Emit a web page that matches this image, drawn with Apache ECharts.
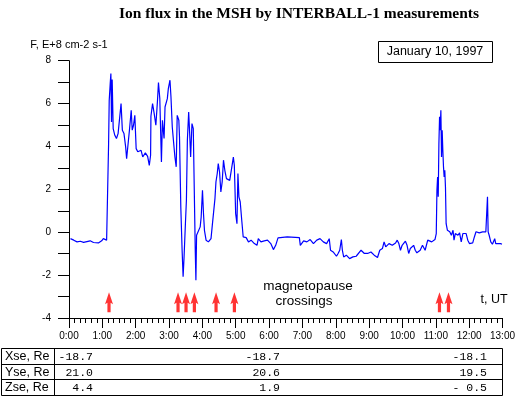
<!DOCTYPE html>
<html>
<head>
<meta charset="utf-8">
<script src="https://cdn.jsdelivr.net/npm/echarts@6/dist/echarts.min.js"></script>
<style>
html, body { margin: 0; padding: 0; background: #fff; }
#chart { width: 518px; height: 397px; }
</style>
</head>
<body>
<div id="chart"></div>
<script>
// time, UT hours
var timeUT = [
  0.044, 0.143, 0.241, 0.340, 0.438, 0.635, 0.734, 0.881, 0.980, 1.029, 1.128, 1.177,
  1.187, 1.206, 1.236, 1.256, 1.275, 1.295, 1.325, 1.374, 1.423, 1.472, 1.521, 1.561,
  1.600, 1.649, 1.699, 1.728, 1.768, 1.817, 1.866, 1.896, 1.935, 1.974, 2.014, 2.063,
  2.162, 2.211, 2.290, 2.358, 2.408, 2.447, 2.457, 2.506, 2.555, 2.605, 2.654, 2.683,
  2.723, 2.772, 2.802, 2.851, 2.880, 2.949, 2.979, 3.028, 3.058, 3.097, 3.136, 3.176,
  3.215, 3.245, 3.294, 3.314, 3.353, 3.392, 3.422, 3.451, 3.491, 3.521, 3.550, 3.589,
  3.619, 3.648, 3.688, 3.727, 3.757, 3.786, 3.806, 3.826, 3.885, 3.934, 3.964, 4.003,
  4.033, 4.062, 4.111, 4.180, 4.259, 4.298, 4.338, 4.377, 4.407, 4.446, 4.476, 4.515,
  4.554, 4.594, 4.633, 4.673, 4.722, 4.771, 4.820, 4.869, 4.899, 4.929, 4.958, 4.998,
  5.037, 5.066, 5.096, 5.135, 5.185, 5.224, 5.313, 5.382, 5.460, 5.559, 5.638,
  5.677, 5.756, 5.854, 5.953, 6.051, 6.130, 6.199, 6.268, 6.544, 6.908, 6.937, 6.987,
  7.036, 7.134, 7.233, 7.331, 7.430, 7.528, 7.627, 7.725, 7.804, 7.843, 7.922, 8.021,
  8.070, 8.119, 8.168, 8.198, 8.237, 8.316, 8.415, 8.513, 8.612, 8.759, 8.858, 8.956,
  9.055, 9.153, 9.252, 9.320, 9.399, 9.449, 9.498, 9.596, 9.695, 9.793, 9.843, 9.892,
  9.941, 9.990, 10.089, 10.138, 10.187, 10.236, 10.335, 10.384, 10.433, 10.532, 10.601, 10.680,
  10.758, 10.798, 10.877, 10.975, 11.014,
  11.034, 11.054, 11.073, 11.093, 11.113, 11.132, 11.152, 11.172, 11.191, 11.211, 11.231, 11.251,
  11.270, 11.290, 11.310, 11.349, 11.418, 11.467, 11.517, 11.546, 11.585, 11.664, 11.713, 11.763,
  11.812, 11.910, 11.959, 12.009, 12.107, 12.157, 12.206, 12.304, 12.403, 12.452, 12.501, 12.550,
  12.570, 12.600, 12.649, 12.698, 12.767, 12.797, 12.846, 12.944, 12.984
];

// ion flux, E+8 cm-2 s-1
var flux = [
  -0.30, -0.37, -0.45, -0.42, -0.47, -0.40, -0.48, -0.50, -0.40, -0.30, -0.37, -0.33,
  4.09, 6.15, 6.93, 7.40, 5.14, 7.12, 4.83, 4.52, 4.37, 4.60, 4.68, 6.00,
  4.76, 4.60, 3.98, 3.43, 3.51, 4.83, 5.69, 4.76, 4.99, 5.45, 3.90, 3.75,
  3.82, 3.51, 3.70, 3.54, 3.12, 3.59, 5.41, 6.00, 5.53, 4.99, 6.15, 6.98,
  6.23, 3.28, 5.22, 4.37, 5.84, 6.23, 6.70, 7.09, 6.31, 4.91, 4.21, 3.51,
  3.05, 5.45, 5.22, 4.44, 1.18, -0.84, -2.08, -1.15, 0.40, 1.49, 4.29, 5.61,
  4.60, 3.51, 5.07, 4.83, 1.96, -0.84, -2.24, -0.14, -0.06, 0.25, 0.71, 1.96,
  0.87, 0.09, -0.37, -0.45, -0.30, 0.33, 0.25, 1.57, 2.35, 2.74, 3.20, 2.81,
  1.88, 2.35, 3.36, 2.89, 2.50, 2.58, 2.42, 2.50, 3.20, 3.51, 3.12, 0.87,
  0.40, 2.74, 1.65, 1.41, 0.48, -0.22, -0.25, -0.45, -0.37, -0.53, -0.61,
  -0.30, -0.45, -0.40, -0.37, -0.53, -0.81, -0.61, -0.26, -0.22, -0.25, -0.61, -0.68,
  -0.40, -0.45, -0.34, -0.53, -0.37, -0.30, -0.45, -0.53, -0.30, -0.84, -0.92, -1.12,
  -0.99, -0.84, -0.34, -0.84, -1.15, -1.07, -1.23, -1.15, -1.12, -0.84, -0.99, -0.99,
  -0.92, -1.07, -1.18, -0.84, -0.76, -0.45, -0.68, -0.53, -0.61, -0.50, -0.37, -0.53,
  -0.84, -0.61, -0.42, -0.61, -0.99, -0.76, -0.61, -0.84, -0.96, -0.84, -0.61, -0.84,
  -0.37, -0.30, -0.45, -0.34, -0.06,
  1.96, 2.58, 1.65, 4.13, 5.38, 4.76, 5.69, 3.51, 4.76, 3.82, 3.05, 2.58,
  2.89, 2.11, 0.40, 0.09, 0.02, -0.14, 0.09, -0.37, -0.06, -0.14, -0.03, -0.45,
  -0.06, -0.06, -0.37, -0.53, -0.50, -0.22, 0.02, -0.03, 0.02, -0.06, 0.02, 1.65,
  0.02, -0.14, -0.45, -0.56, -0.30, -0.53, -0.61, -0.53, -0.56
];

// magnetopause crossings, UT hours
var crossings = [1.20, 3.27, 3.51, 3.76, 4.41, 4.96, 11.11, 11.38];
var arrowLevel = -3.27;

// spacecraft position table
var rowNames = ['Xse, Re', 'Yse, Re', 'Zse, Re'];
var xse = ['-18.7', '-18.7', '-18.1'];
var yse = ['21.0', '20.6', '19.5'];
var zse = ['4.4', '1.9', '- 0.5'];

var lineData = timeUT.map(function (t, i) { return [t, flux[i]]; });
var arrowData = crossings.map(function (t) { return [t, arrowLevel]; });

// table graphic
var rowEdges = [348, 364, 379, 395];
var colRight = [93, 280, 487];
var tableEls = [
  {type: 'rect', shape: {x: 1.5, y: rowEdges[0] + 0.5, width: 501, height: rowEdges[3] - rowEdges[0]},
   style: {fill: 'none', stroke: '#000', lineWidth: 1}},
  {type: 'line', shape: {x1: 54.5, y1: rowEdges[0], x2: 54.5, y2: rowEdges[3]}, style: {stroke: '#000', lineWidth: 1}},
  {type: 'line', shape: {x1: 1, y1: rowEdges[1] + 0.5, x2: 502, y2: rowEdges[1] + 0.5}, style: {stroke: '#000', lineWidth: 1}},
  {type: 'line', shape: {x1: 1, y1: rowEdges[2] + 0.5, x2: 502, y2: rowEdges[2] + 0.5}, style: {stroke: '#000', lineWidth: 1}}
];
[xse, yse, zse].forEach(function (row, r) {
  var yc = (rowEdges[r] + rowEdges[r + 1]) / 2 + 1;
  tableEls.push({type: 'text', x: 5, y: yc,
    style: {text: rowNames[r], fill: '#000', font: '12.5px "Liberation Sans", Arial, sans-serif', textVerticalAlign: 'middle'}});
  row.forEach(function (v, c) {
    tableEls.push({type: 'text', x: colRight[c], y: yc,
      style: {text: v, fill: '#000', font: '11.5px "Liberation Mono", monospace', textAlign: 'right', textVerticalAlign: 'middle'}});
  });
});

var myChart = echarts.init(document.getElementById('chart'));

var option = {
  backgroundColor: '#fff',
  animation: false,
  grid: {left: 69, right: 9.5, top: 60.7, bottom: 79},
  xAxis: {
    type: 'value', min: 0, max: 13, interval: 1,
    axisLine: {onZero: false, lineStyle: {color: '#000', width: 1}},
    axisTick: {length: 10, lineStyle: {color: '#000'}},
    minorTick: {show: true, splitNumber: 6, length: 5, lineStyle: {color: '#000'}},
    splitLine: {show: false},
    axisLabel: {
      margin: 13, color: '#000', fontSize: 10, fontFamily: 'Liberation Sans, Arial, sans-serif',
      formatter: function (v) { return v + ':00'; }
    }
  },
  yAxis: {
    type: 'value', min: -4, max: 8, interval: 1,
    name: 'F, E+8 cm-2 s-1', nameLocation: 'end', nameGap: 10,
    nameTextStyle: {color: '#000', fontSize: 11, fontFamily: 'Liberation Sans, Arial, sans-serif'},
    axisLine: {show: true, lineStyle: {color: '#000', width: 1}},
    axisTick: {show: true, length: 11, lineStyle: {color: '#000'}},
    splitLine: {show: false},
    axisLabel: {
      margin: 18, color: '#000', fontSize: 10, fontFamily: 'Liberation Sans, Arial, sans-serif',
      formatter: function (v) { return v % 2 === 0 ? String(v) : ''; }
    }
  },
  series: [
    {
      type: 'line', data: lineData, showSymbol: false,
      lineStyle: {color: '#0000ff', width: 1.2}
    },
    {
      type: 'scatter', data: arrowData,
      symbol: 'path://M4,0 L8,12 L5.6,10.5 L5.6,20 L2.4,20 L2.4,10.5 L0,12 Z',
      symbolSize: [8, 20],
      itemStyle: {color: '#ff0000'}
    }
  ],
  graphic: [
    {type: 'text', x: 299, y: 14,
     style: {text: 'Ion flux in the MSH by INTERBALL-1 measurements', fill: '#000',
       font: 'bold 15.5px "Liberation Serif", "Times New Roman", serif', textAlign: 'center', textVerticalAlign: 'middle'}},
    {type: 'rect', shape: {x: 378.5, y: 41.5, width: 114, height: 21},
     style: {fill: '#fff', stroke: '#000', lineWidth: 1}},
    {type: 'text', x: 435, y: 52,
     style: {text: 'January 10, 1997', fill: '#000', font: '12.5px "Liberation Sans", Arial, sans-serif',
       textAlign: 'center', textVerticalAlign: 'middle'}},
    {type: 'text', x: 308, y: 286,
     style: {text: 'magnetopause', fill: '#000', font: '13.5px "Liberation Sans", Arial, sans-serif',
       textAlign: 'center', textVerticalAlign: 'middle'}},
    {type: 'text', x: 304, y: 301,
     style: {text: 'crossings', fill: '#000', font: '13.5px "Liberation Sans", Arial, sans-serif',
       textAlign: 'center', textVerticalAlign: 'middle'}},
    {type: 'text', x: 494, y: 300,
     style: {text: 't, UT', fill: '#000', font: '12.5px "Liberation Sans", Arial, sans-serif',
       textAlign: 'center', textVerticalAlign: 'middle'}}
  ].concat(tableEls)
};

if (option && typeof option === 'object') {
  myChart.setOption(option, true);
}
</script>
</body>
</html>
